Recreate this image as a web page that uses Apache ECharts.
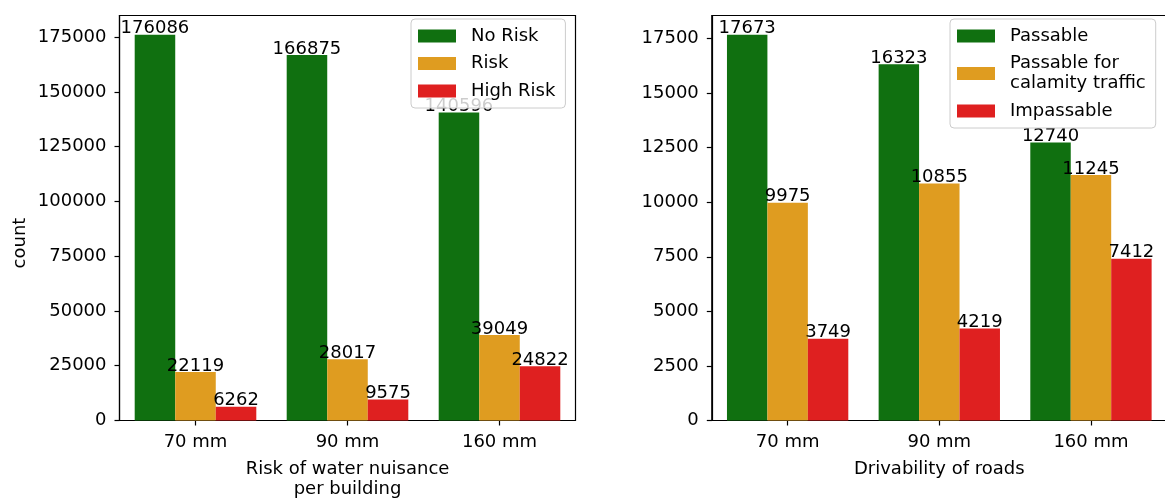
<!DOCTYPE html>
<html>
<head>
<meta charset="utf-8">
<script src="https://cdn.jsdelivr.net/npm/echarts@6/dist/echarts.min.js"></script>
<style>
  html, body { margin: 0; padding: 0; background: #fff; }
  #chart { width: 1165px; height: 498px; }
</style>
</head>
<body>
<div id="chart"></div>
<script>
// Rainfall scenarios shared by both panels
const categories = ['70 mm', '90 mm', '160 mm'];

// Left panel: buildings by risk of water nuisance
const noRisk = [176086, 166875, 140596];
const risk = [22119, 28017, 39049];
const highRisk = [6262, 9575, 24822];
const leftTicks = [0, 25000, 50000, 75000, 100000, 125000, 150000, 175000];

// Right panel: road segments by drivability
const passable = [17673, 16323, 12740];
const calamity = [9975, 10855, 11245];
const impassable = [3749, 4219, 7412];
const rightTicks = [0, 2500, 5000, 7500, 10000, 12500, 15000, 17500];

const GREEN = '#107010';
const ORANGE = '#df9c20';
const RED = '#df2020';
const FONT = 'DejaVu Sans';

// 5% headroom above the tallest bar
const leftMax = Math.max(...noRisk, ...risk, ...highRisk) * 1.05;
const rightMax = Math.max(...passable, ...calamity, ...impassable) * 1.05;

const chart = echarts.init(document.getElementById('chart'), null, { renderer: 'canvas' });

function xAxisFor(gridIndex, name) {
  return {
    type: 'category',
    gridIndex,
    data: categories,
    name,
    nameLocation: 'middle',
    nameGap: 39,
    nameTextStyle: { fontFamily: FONT, fontSize: 18, color: '#000', lineHeight: 20 },
    axisLine: { show: true, lineStyle: { color: '#000', width: 1.2 } },
    axisTick: { show: true, alignWithLabel: true, length: 5, lineStyle: { color: '#000', width: 1.2 } },
    axisLabel: { fontFamily: FONT, fontSize: 18, color: '#000', margin: 13 },
    splitLine: { show: false }
  };
}

function yAxisFor(gridIndex, max, ticks, name) {
  return {
    type: 'value',
    gridIndex,
    min: 0,
    max,
    name,
    nameLocation: 'middle',
    nameGap: 90,
    // right padding nudges the rotated title a little lower along the axis
    nameTextStyle: { fontFamily: FONT, fontSize: 18, color: '#000', padding: [0, 50, 0, 0] },
    axisLine: { show: true, lineStyle: { color: '#000', width: 1.2 } },
    axisTick: { show: true, length: 5, customValues: ticks, lineStyle: { color: '#000', width: 1.2 } },
    axisLabel: {
      fontFamily: FONT, fontSize: 18, color: '#000', margin: 13, customValues: ticks,
      formatter: (v) => String(v)
    },
    splitLine: { show: false }
  };
}

function barSeries(name, data, color, xIdx, yIdx) {
  return {
    type: 'bar',
    name,
    data,
    xAxisIndex: xIdx,
    yAxisIndex: yIdx,
    barWidth: '26.6667%',
    barGap: '0%',
    itemStyle: { color },
    label: {
      show: true,
      position: 'top',
      distance: 0,
      fontFamily: FONT,
      fontSize: 18,
      lineHeight: 12,
      color: '#000'
    },
    emphasis: { disabled: true },
    animation: false
  };
}

const legendCommon = {
  orient: 'vertical',
  top: 19,
  itemWidth: 38,
  itemHeight: 13,
  itemGap: 7.5,
  icon: 'rect',
  backgroundColor: 'rgba(255,255,255,0.8)',
  borderColor: '#cccccc',
  borderWidth: 1,
  borderRadius: 4,
  padding: [7, 10, 7, 7],
  textStyle: { fontFamily: FONT, fontSize: 18, color: '#000', lineHeight: 20, padding: [0, 0, 0, 10] },
  selectedMode: false
};

const gridCommon = { top: 15.5, height: 405, show: true, borderColor: '#000', borderWidth: 1.2, outerBoundsMode: 'none', containLabel: false };

chart.setOption({
  animation: false,
  backgroundColor: '#fff',
  grid: [
    Object.assign({}, gridCommon, { left: 119.5, width: 456 }),
    Object.assign({}, gridCommon, { left: 711.8, width: 455 })
  ],
  legend: [
    Object.assign({}, legendCommon, { left: 411, data: ['No Risk', 'Risk', 'High Risk'] }),
    Object.assign({}, legendCommon, { left: 950, data: ['Passable', 'Passable for\ncalamity traffic', 'Impassable'] })
  ],
  xAxis: [
    xAxisFor(0, 'Risk of water nuisance\nper building'),
    xAxisFor(1, 'Drivability of roads')
  ],
  yAxis: [
    yAxisFor(0, leftMax, leftTicks, 'count'),
    yAxisFor(1, rightMax, rightTicks, '')
  ],
  series: [
    barSeries('No Risk', noRisk, GREEN, 0, 0),
    barSeries('Risk', risk, ORANGE, 0, 0),
    barSeries('High Risk', highRisk, RED, 0, 0),
    barSeries('Passable', passable, GREEN, 1, 1),
    barSeries('Passable for\ncalamity traffic', calamity, ORANGE, 1, 1),
    barSeries('Impassable', impassable, RED, 1, 1)
  ]
});
</script>
</body>
</html>
